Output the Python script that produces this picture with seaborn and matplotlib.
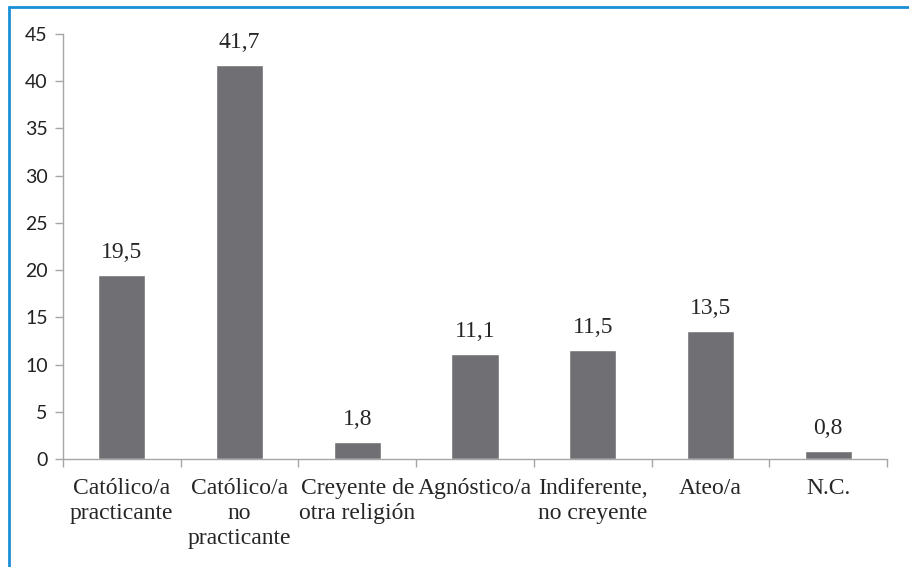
import seaborn as sns
import pandas as pd
import matplotlib.pyplot as plt
from matplotlib.lines import Line2D

categorias = ["Católico/a\npracticante", "Católico/a\nno\npracticante", "Creyente de\notra religión",
              "Agnóstico/a", "Indiferente,\nno creyente", "Ateo/a", "N.C."]
valores = [19.5, 41.7, 1.8, 11.1, 11.5, 13.5, 0.8]
ticks_y = [0, 5, 10, 15, 20, 25, 30, 35, 40, 45]

df = pd.DataFrame({"categoria": categorias, "valor": valores})

sns.set_style("white")
plt.rcParams['font.family'] = ['Lato', 'DejaVu Sans']

fig = plt.figure(figsize=(9.09, 5.67), dpi=100)
ax = fig.add_axes([0.0693, 0.1905, 0.9065, 0.7495])

sns.barplot(data=df, x="categoria", y="valor", color="#707074", width=0.4, saturation=1, ax=ax)

ax.set_ylim(0, 45)
ax.set_xlim(-0.5, len(categorias) - 0.5)
ax.set_yticks(ticks_y)
ax.set_yticklabels([str(t) for t in ticks_y], fontsize=14, color="#222222")
ax.set_xlabel("")
ax.set_ylabel("")

# ticks del eje x en los limites de categoria
ax.set_xticks([i - 0.5 for i in range(len(categorias) + 1)], minor=True)
ax.set_xticks(range(len(categorias)))
ax.set_xticklabels(categorias, fontsize=17, family=['Liberation Serif'], multialignment="center",
                   linespacing=1.25)
ax.tick_params(axis="x", which="major", length=0, pad=14)
ax.tick_params(axis="x", which="minor", length=6, color="#A6A6A6", width=1, bottom=True)
ax.tick_params(axis="y", length=6, color="#A6A6A6", width=1, left=True, pad=5)

for s in ["top", "right"]:
    ax.spines[s].set_visible(False)
for s in ["left", "bottom"]:
    ax.spines[s].set_color("#A6A6A6")
    ax.spines[s].set_linewidth(1)

for i, v in enumerate(valores):
    ax.text(i, v + 1.3, f"{v:.1f}".replace(".", ","), ha="center", va="bottom",
            fontsize=17, family=['Liberation Serif'])

# marco azul (solo arriba e izquierda visibles)
fig.add_artist(Line2D([9 / 909, 1], [1 - 7 / 567, 1 - 7 / 567], color="#1B8FD6", linewidth=2,
                      transform=fig.transFigure))
fig.add_artist(Line2D([9 / 909, 9 / 909], [0, 1 - 7 / 567], color="#1B8FD6", linewidth=2,
                      transform=fig.transFigure))

plt.savefig("out.png", dpi=100)
